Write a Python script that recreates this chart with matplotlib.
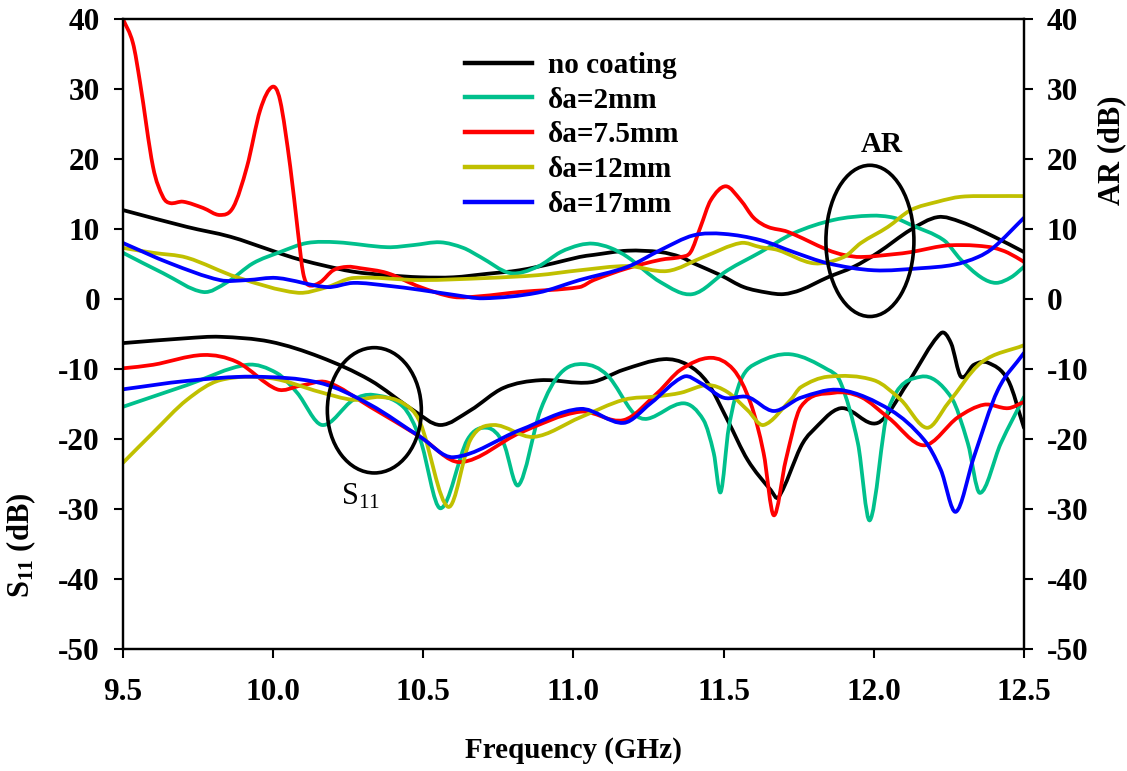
import matplotlib
matplotlib.use("Agg")
import matplotlib.pyplot as plt
from matplotlib.patches import Ellipse, PathPatch
from matplotlib.path import Path
from matplotlib.lines import Line2D

plt.rcParams['font.family'] = ['Liberation Serif', 'DejaVu Serif']
plt.rcParams['font.weight'] = 'bold'
plt.rcParams['mathtext.default'] = 'regular'
plt.rcParams['axes.unicode_minus'] = False

# ---------------- Axial ratio (AR) curves ----------------
f_ar_none = [9.5, 9.713, 9.857, 9.99, 10.067, 10.157, 10.267, 10.38, 10.49, 10.6, 10.713,
             10.82, 10.933, 11.02, 11.067, 11.18, 11.29, 11.357, 11.4, 11.49, 11.567, 11.647,
             11.7, 11.757, 11.847, 11.933, 12.013, 12.123, 12.213, 12.29, 12.4, 12.5]
ar_none = [12.7, 10.3, 8.9, 7.0, 5.9, 4.9, 3.9, 3.4, 3.1, 3.1, 3.6,
           4.1, 5.1, 6.0, 6.3, 6.9, 6.7, 6.0, 5.1, 3.4, 1.7, 0.9,
           0.7, 1.3, 3.1, 4.6, 6.6, 9.9, 11.7, 11.0, 8.9, 6.7]

f_ar_2 = [9.5, 9.633, 9.767, 9.847, 9.933, 10.023, 10.113, 10.213, 10.38, 10.467, 10.557,
          10.633, 10.69, 10.79, 10.88, 10.957, 11.02, 11.067, 11.123, 11.18, 11.29, 11.397,
          11.513, 11.623, 11.733, 11.867, 11.99, 12.067, 12.123, 12.233, 12.29, 12.357,
          12.407, 12.457, 12.5]
ar_2 = [6.6, 3.7, 1.0, 2.4, 5.1, 6.7, 8.0, 8.1, 7.4, 7.7, 8.1,
        7.3, 6.0, 3.7, 4.6, 6.7, 7.7, 7.9, 7.3, 6.0, 2.4, 0.7,
        4.1, 6.7, 9.4, 11.3, 11.9, 11.6, 10.6, 8.4, 5.6, 3.1,
        2.3, 3.1, 4.6]

f_ar_75 = [9.5, 9.533, 9.557, 9.6, 9.633, 9.657, 9.70, 9.767, 9.823, 9.867, 9.913, 9.957,
           9.997, 10.023, 10.057, 10.083, 10.1, 10.117, 10.157, 10.2, 10.247, 10.29, 10.38,
           10.49, 10.6, 10.69, 10.82, 11.02, 11.067, 11.18, 11.29, 11.357, 11.39, 11.423,
           11.457, 11.507, 11.557, 11.6, 11.647, 11.713, 11.847, 11.9, 11.957, 12.067,
           12.123, 12.233, 12.29, 12.347, 12.4, 12.447, 12.5]
ar_75 = [40.0, 36.6, 30.9, 18.9, 14.6, 13.7, 13.9, 13.0, 12.0, 13.1, 18.9, 27.0,
         30.3, 28.4, 18.9, 9.4, 3.7, 2.0, 2.4, 4.1, 4.6, 4.4, 3.7,
         1.7, 0.3, 0.4, 1.0, 1.7, 2.7, 4.4, 5.6, 6.0, 6.7, 10.3,
         14.1, 16.1, 14.1, 11.6, 10.3, 9.6, 7.0, 6.3, 6.0, 6.4,
         6.7, 7.6, 7.7, 7.6, 7.3, 6.6, 5.3]

f_ar_12 = [9.5, 9.6, 9.713, 9.88, 10.08, 10.18, 10.267, 10.49, 10.713, 10.88, 11.02, 11.18,
           11.313, 11.433, 11.557, 11.623, 11.68, 11.8, 11.9, 11.957, 12.047, 12.123,
           12.213, 12.29, 12.4, 12.5]
ar_12 = [7.3, 6.6, 5.9, 3.1, 0.9, 1.7, 3.0, 2.7, 3.0, 3.4, 4.1, 4.7,
         4.0, 6.0, 8.0, 7.4, 7.0, 5.1, 6.0, 8.0, 10.3, 12.7,
         13.9, 14.6, 14.7, 14.7]

f_ar_17 = [9.5, 9.657, 9.823, 9.913, 10.013, 10.18, 10.267, 10.38, 10.49, 10.6, 10.7, 10.88,
           11.02, 11.18, 11.29, 11.4, 11.5, 11.623, 11.733, 11.847, 12.0, 12.157, 12.267,
           12.347, 12.4, 12.5]
ar_17 = [8.0, 5.1, 2.7, 2.7, 3.0, 1.7, 2.3, 1.9, 1.3, 0.6, 0.1, 0.9,
         2.7, 4.6, 7.0, 9.1, 9.3, 8.4, 6.7, 5.1, 4.1, 4.4, 4.9,
         6.0, 7.4, 11.6]

# ---------------- Reflection coefficient (S11) curves ----------------
f_s_none = [9.5, 9.713, 9.823, 9.99, 10.157, 10.323, 10.467, 10.557, 10.657, 10.767, 10.89,
            11.057, 11.167, 11.3, 11.38, 11.447, 11.513, 11.58, 11.657, 11.683, 11.757,
            11.79, 11.89, 12.013, 12.113, 12.223, 12.257, 12.29, 12.333, 12.38, 12.447, 12.5]
s_none = [-6.3, -5.6, -5.4, -6.1, -8.3, -11.6, -15.9, -18.0, -15.9, -12.7, -11.6,
          -11.9, -10.1, -8.6, -9.4, -12.0, -17.3, -23.0, -27.3, -28.3, -21.1,
          -19.1, -15.6, -17.7, -12.0, -4.9, -6.3, -11.1, -9.4, -9.1, -11.6, -18.4]

f_s_2 = [9.5, 9.713, 9.913, 10.013, 10.08, 10.163, 10.267, 10.333, 10.433, 10.49, 10.557,
         10.647, 10.713, 10.767, 10.817, 10.89, 10.957, 11.033, 11.113, 11.2, 11.247, 11.367,
         11.433, 11.467, 11.49, 11.517, 11.557, 11.613, 11.723, 11.847, 11.89, 11.947,
         11.987, 12.047, 12.157, 12.257, 12.313, 12.353, 12.423, 12.5]
s_2 = [-15.4, -12.3, -9.4, -10.6, -13.4, -18.0, -14.4, -13.7, -15.4, -20.1, -29.9,
       -20.1, -18.4, -20.6, -26.6, -15.9, -10.6, -9.3, -10.9, -16.3, -17.1, -14.9,
       -17.3, -22.0, -27.6, -18.4, -11.6, -9.1, -7.9, -10.1, -12.0, -20.6,
       -31.6, -15.9, -11.1, -14.0, -20.6, -27.7, -20.6, -14.0]

f_s_75 = [9.5, 9.6, 9.767, 9.88, 10.013, 10.09, 10.18, 10.323, 10.49, 10.623, 10.823, 11.023,
          11.167, 11.28, 11.357, 11.457, 11.533, 11.59, 11.633, 11.667, 11.707, 11.757,
          11.867, 11.957, 12.05, 12.167, 12.28, 12.367, 12.447, 12.5]
s_75 = [-9.9, -9.4, -8.0, -9.0, -12.9, -12.4, -11.9, -15.4, -19.7, -23.3, -19.1, -16.1,
        -17.3, -13.4, -10.1, -8.4, -10.1, -14.9, -22.0, -30.9, -23.0, -15.4,
        -13.4, -14.0, -17.0, -20.9, -16.9, -15.1, -15.6, -14.7]

f_s_12 = [9.5, 9.6, 9.713, 9.823, 9.99, 10.157, 10.267, 10.357, 10.433, 10.49, 10.583,
          10.657, 10.733, 10.867, 11.023, 11.167, 11.28, 11.357, 11.447, 11.513, 11.58,
          11.633, 11.723, 11.757, 11.847, 12.0, 12.09, 12.177, 12.247, 12.357, 12.5]
s_12 = [-23.4, -19.1, -14.4, -11.6, -11.3, -13.3, -14.4, -14.0, -14.9, -17.7, -29.7,
        -20.1, -18.0, -19.7, -16.9, -14.4, -13.9, -13.4, -12.3, -13.3, -15.9,
        -18.0, -14.4, -12.6, -11.1, -11.6, -14.4, -18.4, -14.9, -9.1, -6.6]

f_s_17 = [9.5, 9.713, 9.933, 10.157, 10.323, 10.49, 10.6, 10.823, 11.023, 11.167, 11.257,
          11.367, 11.423, 11.5, 11.58, 11.667, 11.757, 11.89, 12.057, 12.167, 12.223,
          12.273, 12.333, 12.413, 12.5]
s_17 = [-12.9, -11.7, -11.1, -12.0, -15.1, -19.7, -22.6, -18.7, -15.7, -17.7, -14.9,
        -11.1, -12.0, -14.1, -14.0, -16.0, -14.1, -13.0, -15.9, -20.1, -24.4,
        -30.4, -22.6, -13.0, -7.7]

labels = ['no coating', 'δa=2mm', 'δa=7.5mm', 'δa=12mm', 'δa=17mm']
colors = ['#000000', '#00C08C', '#FF0000', '#C0C000', '#0000FF']
ar_sets = [(f_ar_none, ar_none), (f_ar_2, ar_2), (f_ar_75, ar_75), (f_ar_12, ar_12), (f_ar_17, ar_17)]
s_sets = [(f_s_none, s_none), (f_s_2, s_2), (f_s_75, s_75), (f_s_12, s_12), (f_s_17, s_17)]

FS = 21
TICK_FS = 22.5
LW = 2.7


def spline_path(x, y):
    """Smooth cubic-Bezier curve through the measured points (Hermite tangents)."""
    n = len(x)
    m = []
    for i in range(n):
        if i == 0:
            m.append((y[1] - y[0]) / (x[1] - x[0]))
        elif i == n - 1:
            m.append((y[-1] - y[-2]) / (x[-1] - x[-2]))
        else:
            m.append((y[i + 1] - y[i - 1]) / (x[i + 1] - x[i - 1]))
    verts = [(x[0], y[0])]
    codes = [Path.MOVETO]
    for i in range(n - 1):
        h = x[i + 1] - x[i]
        verts += [(x[i] + h / 3, y[i] + m[i] * h / 3),
                  (x[i + 1] - h / 3, y[i + 1] - m[i + 1] * h / 3),
                  (x[i + 1], y[i + 1])]
        codes += [Path.CURVE4] * 3
    return Path(verts, codes)


fig = plt.figure(figsize=(11.27, 7.71), dpi=100)
ax = fig.add_axes([0.1091, 0.1582, 0.7995, 0.8172])

for (fs, s), (fa, a), c in zip(s_sets, ar_sets, colors):
    for xs, ys in ((fs, s), (fa, a)):
        ax.add_patch(PathPatch(spline_path(xs, ys), fill=False, ec=c, lw=LW,
                               capstyle='round', joinstyle='round'))

handles = [Line2D([], [], color=c, lw=3.2) for c in colors]

ax.set_xlim(9.5, 12.5)
ax.set_ylim(-50, 40)
ax.set_xticks([9.5, 10.0, 10.5, 11.0, 11.5, 12.0, 12.5])
ax.set_xticklabels(['9.5', '10.0', '10.5', '11.0', '11.5', '12.0', '12.5'])
ax.set_yticks(range(-50, 41, 10))

for sp in ax.spines.values():
    sp.set_linewidth(1.6)
ax.tick_params(axis='both', direction='out', length=6.5, width=1.5, pad=10,
               labelsize=TICK_FS, top=False, right=False)
ax.tick_params(axis='x', pad=14)
for lbl in ax.get_xticklabels() + ax.get_yticklabels():
    lbl.set_fontweight('bold')

ax2 = ax.twinx()
ax2.set_ylim(-50, 40)
ax2.set_yticks(range(-50, 41, 10))
ax2.tick_params(axis='y', direction='out', length=6.5, width=1.5, pad=10, labelsize=TICK_FS)
for lbl in ax2.get_yticklabels():
    lbl.set_fontweight('bold')
for sp in ax2.spines.values():
    sp.set_linewidth(1.6)

ax.set_xlabel('Frequency (GHz)', fontsize=FS, fontweight='bold', labelpad=22)
ax.set_ylabel('S$_{11}$ (dB)', fontsize=22, fontweight='bold')
ax.yaxis.set_label_coords(-0.094, 0.165)
ax2.set_ylabel('AR (dB)', fontsize=22, fontweight='bold')
ax2.yaxis.set_label_coords(1.081, 0.792)

# Ellipses grouping the two families of curves
ax.add_patch(Ellipse((11.987, 8.3), 0.293, 21.6, fill=False, ec='black', lw=2.6))
ax.add_patch(Ellipse((10.337, -15.9), 0.313, 17.9, fill=False, ec='black', lw=2.6))
ax.text(12.027, 22.0, 'AR', fontsize=FS, fontweight='bold', ha='center', va='center')
ax.text(10.29, -28.3, 'S$_{11}$', fontsize=22, fontweight='normal', ha='center', va='center')

ax.legend(handles=handles, labels=labels, loc='upper left', bbox_to_anchor=(0.3796, 0.948),
          frameon=False, borderpad=0, borderaxespad=0, handlelength=2.3,
          handletextpad=0.55, labelspacing=0.27,
          prop={'family': 'Liberation Serif', 'weight': 'bold', 'size': FS})

fig.savefig('out.png', dpi=100)
